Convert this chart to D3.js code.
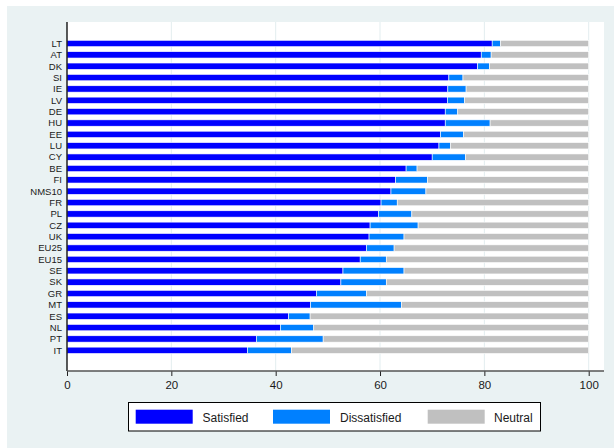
<!DOCTYPE html>
<html>
<head>
<meta charset="utf-8">
<script src="https://cdn.jsdelivr.net/npm/d3@7"></script>
<style>
  html, body { margin: 0; padding: 0; background: #ffffff; }
  svg { display: block; font-family: "Liberation Sans", Arial, Helvetica, sans-serif; }
</style>
</head>
<body>
<svg id="chart" width="614" height="448"></svg>
<script>
const categories = ["LT","AT","DK","SI","IE","LV","DE","HU","EE","LU","CY","BE","FI","NMS10","FR","PL","CZ","UK","EU25","EU15","SE","SK","GR","MT","ES","NL","PT","IT"];
const satisfied    = [81.5,79.4,78.7,73.2,73.0,72.9,72.5,72.5,71.6,71.3,70.0,65.0,63.0,62.1,60.2,59.7,58.1,57.9,57.4,56.2,52.9,52.5,47.8,46.7,42.5,40.9,36.3,34.6];
const dissatisfied = [ 1.6, 1.9, 2.3, 2.7, 3.5, 3.3, 2.4, 8.6, 4.4, 2.2, 6.4, 2.1, 6.1, 6.7, 3.1, 6.4, 9.2, 6.7, 5.3, 5.0,11.7, 8.7, 9.6,17.4, 4.1, 6.4,12.8, 8.4];
const neutral      = [16.9,18.7,19.0,24.1,23.5,23.8,25.1,18.9,24.0,26.5,23.6,32.9,30.9,31.2,36.7,33.9,32.7,35.4,37.3,38.8,35.4,38.8,42.6,35.9,53.4,52.7,50.9,57.0];
const seriesNames  = ["Satisfied","Dissatisfied","Neutral"];
const seriesColors = ["#0000ff","#0080ff","#c0c0c0"];
const xTicks       = [0,20,40,60,80,100];

const svg = d3.select("#chart");
const W = 614, H = 448;

// outer background
svg.append("rect").attr("x",0).attr("y",0).attr("width",W).attr("height",H).attr("fill","#ffffff");
svg.append("rect").attr("x",7).attr("y",6).attr("width",W-7).attr("height",H-6).attr("fill","#eaf2f3");

const plot = {left:67, right:604, top:22, bottom:371};
svg.append("rect").attr("x",plot.left).attr("y",plot.top)
  .attr("width",plot.right-plot.left).attr("height",plot.bottom-plot.top).attr("fill","#ffffff");

const x = d3.scaleLinear().domain([0,100]).range([67,588.7]);
const y = d3.scaleBand().domain(categories).range([37.8,356.0]).paddingInner(0.44).paddingOuter(0.22);

// gridlines
svg.append("g").selectAll("line").data(xTicks.filter(t=>t>0)).join("line")
  .attr("x1",d=>x(d)).attr("x2",d=>x(d)).attr("y1",plot.top).attr("y2",plot.bottom)
  .attr("stroke","#e3edef").attr("stroke-width",1);

// stacked data
const rows = categories.map((c,i)=>({cat:c, Satisfied:satisfied[i], Dissatisfied:dissatisfied[i], Neutral:neutral[i]}));
const stacked = d3.stack().keys(seriesNames)(rows);

svg.append("g").selectAll("g").data(stacked).join("g")
  .attr("fill",(d,i)=>seriesColors[i])
  .selectAll("rect").data(d=>d).join("rect")
  .attr("x",d=>x(d[0]))
  .attr("width",d=>Math.max(0,x(d[1])-x(d[0])))
  .attr("y",d=>y(d.data.cat))
  .attr("height",y.bandwidth())
  .attr("stroke","#ffffff").attr("stroke-width",0.6);

// left axis line and category labels
svg.append("line").attr("x1",plot.left).attr("x2",plot.left).attr("y1",plot.top).attr("y2",plot.bottom)
  .attr("stroke","#000").attr("stroke-width",1.3);
svg.append("g").selectAll("text").data(categories).join("text")
  .attr("x",62).attr("y",d=>y(d)+y.bandwidth()/2)
  .attr("dy","0.35em").attr("text-anchor","end")
  .attr("font-size","9.5px").attr("fill","#1a1a1a").text(d=>d);

// bottom axis
const xAxis = d3.axisBottom(x).tickValues(xTicks).tickSize(5).tickPadding(5).tickFormat(d3.format("d"));
const gx = svg.append("g").attr("transform",`translate(0,${plot.bottom})`).call(xAxis);
gx.select(".domain").remove();
gx.selectAll(".tick line").attr("stroke","#222").attr("stroke-width",1);
gx.selectAll(".tick text").attr("font-size","11.5px").attr("fill","#1a1a1a")
  .attr("font-family",'"Liberation Sans", Arial, sans-serif');
svg.append("line").attr("x1",plot.left).attr("x2",plot.right).attr("y1",plot.bottom).attr("y2",plot.bottom)
  .attr("stroke","#555").attr("stroke-width",1.5);

// legend
const lg = svg.append("g");
lg.append("rect").attr("x",128.5).attr("y",402.5).attr("width",412).attr("height",28.5)
  .attr("fill","#ffffff").attr("stroke","#000").attr("stroke-width",1);
const swX = [135.7,273,427.7];
const txX = [202.5,340,494];
seriesNames.forEach((n,i)=>{
  lg.append("rect").attr("x",swX[i]).attr("y",409.7).attr("width",57).attr("height",14)
    .attr("fill",seriesColors[i]);
  lg.append("text").attr("x",txX[i]).attr("y",421.5).attr("font-size","12px")
    .attr("fill","#1a1a1a").text(n);
});
</script>
</body>
</html>
